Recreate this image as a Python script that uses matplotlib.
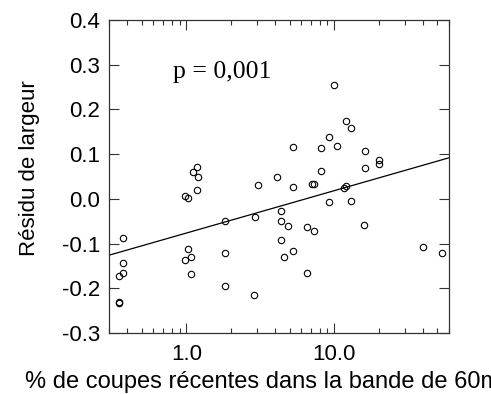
import matplotlib
matplotlib.use('Agg')
import matplotlib.pyplot as plt
import matplotlib.ticker as mticker
import numpy as np

plt.rcParams['font.family'] = ['Liberation Sans', 'DejaVu Sans']

# % de coupes recentes (x, log) and residu de largeur (y)
pct = [1.187, 1.115, 1.192, 1.187, 0.978, 1.025,
       0.373, 0.373, 0.373, 0.353, 0.350, 0.351,
       1.025, 1.074, 0.978, 1.074,
       5.25, 8.21, 8.21, 4.12, 3.08, 5.25, 7.1, 7.3,
       4.36, 1.823, 2.93, 4.36, 4.86, 6.60, 7.33, 4.36,
       1.823, 5.25, 4.62, 6.60, 1.823, 2.88,
       10.05, 11.98, 12.95, 9.25, 10.53, 16.2, 20.3, 20.3,
       16.2, 11.7, 12.0,
       9.25, 12.95, 15.95, 39.7, 53.9]
residu = [0.071, 0.059, 0.049, 0.019, 0.006, 0.002,
          -0.088, -0.143, -0.166, -0.172, -0.230, -0.232,
          -0.112, -0.130, -0.137, -0.168,
          0.117, 0.114, 0.062, 0.048, 0.031, 0.027, 0.034, 0.033,
          -0.028, -0.049, -0.041, -0.049, -0.061, -0.064, -0.071, -0.093,
          -0.120, -0.117, -0.131, -0.165, -0.195, -0.216,
          0.254, 0.174, 0.158, 0.138, 0.119, 0.107, 0.086, 0.079,
          0.070, 0.025, 0.028,
          -0.008, -0.005, -0.058, -0.108, -0.120]

# regression line as drawn in the figure: residu = a + b*log10(pct)
reg_a = -0.0765
reg_b = 0.0947

x_lim = [0.3, 60.0]
y_ticks = [-0.3, -0.2, -0.1, 0.0, 0.1, 0.2, 0.3, 0.4]

fig = plt.figure(figsize=(4.91, 3.94), dpi=100)
ax = fig.add_axes([0.222, 0.1548, 0.6925, 0.7944])

ax.plot(pct, residu, 'o', mfc='none', mec='k', ms=4.6, mew=0.8, ls='none')

xl = np.array(x_lim)
ax.plot(xl, reg_a + reg_b * np.log10(xl), color='k', lw=0.9)

ax.set_xscale('log')
ax.set_xlim(x_lim)
ax.set_ylim(-0.3, 0.4)
ax.xaxis.set_major_locator(mticker.FixedLocator([1, 10]))
ax.xaxis.set_major_formatter(mticker.FixedFormatter(['1.0', '10.0']))
ax.xaxis.set_minor_locator(mticker.LogLocator(base=10, subs=np.arange(2, 10)))
ax.xaxis.set_minor_formatter(mticker.NullFormatter())
ax.set_yticks(y_ticks)
ax.yaxis.set_major_formatter(mticker.FormatStrFormatter('%.1f'))

ax.tick_params(which='both', direction='in', top=True, right=True,
               labelsize=16, width=0.8, color='#333333')
ax.tick_params(which='major', length=7)
ax.tick_params(which='minor', length=3.5)
ax.tick_params(axis='y', pad=6.5)
ax.tick_params(axis='x', pad=8)
for s in ax.spines.values():
    s.set_linewidth(0.9)
    s.set_color('#333333')

fig.text(30 / 491, 1 - 168 / 394, 'Résidu de largeur', fontsize=16,
         rotation=90, ha='center', va='center')
fig.text(25 / 491, 1 - 388 / 394, '% de coupes récentes dans la bande de 60m',
         fontsize=17, ha='left', va='baseline')

ax.text(173, 394 - 78, 'p = 0,001', transform=None, fontsize=18.5,
        family=['Liberation Serif', 'DejaVu Serif'], ha='left', va='baseline')

plt.savefig('out.png', dpi=100)
